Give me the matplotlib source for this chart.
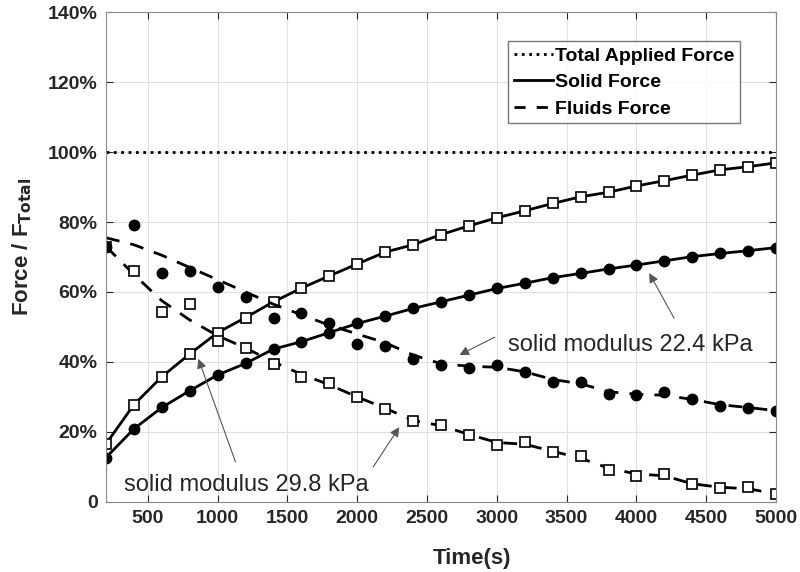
import numpy as np
import matplotlib.pyplot as plt
from matplotlib.ticker import FuncFormatter

plt.rcParams['font.family'] = ['Liberation Sans', 'DejaVu Sans']

# time grid (s)
time_s = [200, 400, 600, 800, 1000, 1200, 1400, 1600, 1800, 2000, 2200, 2400, 2600,
          2800, 3000, 3200, 3400, 3600, 3800, 4000, 4200, 4400, 4600, 4800, 5000]

# solid force, % of total
solid_stiff = [16.6, 27.8, 35.8, 42.3, 48.4, 52.7, 57.2, 61.1, 64.6, 68.0, 71.4, 73.5, 76.4,
               78.9, 81.2, 83.2, 85.3, 87.2, 88.5, 90.3, 91.8, 93.4, 94.9, 95.8, 96.9]
solid_soft = [12.7, 20.9, 27.0, 31.8, 36.3, 39.6, 43.7, 45.8, 48.4, 51.0, 53.1, 55.3, 57.2,
              59.1, 61.0, 62.5, 64.1, 65.3, 66.6, 67.7, 68.9, 70.1, 71.0, 71.8, 72.7]

# fluid force measurements, % of total
fluid_stiff_pts = [73.0, 66.0, 54.4, 56.6, 46.1, 43.9, 39.4, 35.8, 33.9, 30.1, 26.6, 23.0, 22.0,
                   19.1, 16.3, 17.0, 14.4, 13.1, 9.1, 7.5, 7.9, 5.0, 3.9, 4.4, 2.3]
fluid_soft_pts = [73.0, 79.1, 65.3, 66.0, 61.5, 58.7, 52.5, 53.9, 51.0, 45.1, 44.6, 40.8, 39.1,
                  38.4, 39.1, 37.2, 34.4, 34.4, 30.9, 30.6, 31.5, 29.3, 27.4, 26.8, 26.1]

# fluid force smoothed curves
fluid_stiff_fit = [73.0, 65.0, 57.5, 52.0, 47.5, 44.0, 40.0, 36.5, 33.5, 30.0, 26.8, 23.3, 21.8,
                   19.3, 17.0, 16.5, 14.5, 12.5, 9.7, 8.0, 7.5, 5.2, 4.2, 3.8, 2.3]
fluid_soft_fit = [75.5, 73.5, 70.5, 67.0, 63.5, 60.0, 56.5, 53.5, 50.5, 48.0, 45.5, 42.0, 39.5,
                  38.8, 38.5, 37.2, 35.0, 33.8, 31.5, 30.8, 30.5, 29.3, 27.8, 27.0, 26.1]

total_force = 100

fig = plt.figure(figsize=(8, 5.72), dpi=100)
ax = fig.add_axes([0.1325, 0.1224, 0.8375, 0.8566])

ax.axhline(total_force, color='k', ls=':', lw=2, label='Total Applied Force')

sq = dict(marker='s', ms=6.5, mfc='white', mec='k', mew=1.2)
ci = dict(marker='o', ms=7.5, mfc='k', mec='k')

ax.plot(time_s, solid_stiff, color='k', lw=2, **sq)
ax.plot(time_s, solid_soft, color='k', lw=2, **ci)

ax.plot(time_s, fluid_stiff_fit, color='k', lw=2, ls=(0, (5, 4)))
ax.plot(time_s, fluid_soft_fit, color='k', lw=2, ls=(0, (5, 4)))
ax.plot(time_s, fluid_stiff_pts, ls='none', **sq)
ax.plot(time_s, fluid_soft_pts, ls='none', **ci)

# legend proxies
ax.plot([], [], color='k', lw=2, label='Solid Force')
ax.plot([], [], color='k', lw=2, ls=(0, (4, 4)), label='Fluids Force')

ax.set_xlim(200, 5000)
ax.set_ylim(0, 140)
ax.set_xticks(np.arange(500, 5001, 500))
ax.set_yticks(np.arange(0, 141, 20))
ax.yaxis.set_major_formatter(FuncFormatter(lambda v, p: '0' if v == 0 else '%d%%' % v))
ax.tick_params(direction='in', top=True, right=True, labelsize=14, colors='#262626',
               length=5, width=0.8, pad=6)
for lab in ax.get_xticklabels() + ax.get_yticklabels():
    lab.set_fontweight('bold')
ax.grid(True, color='#e0e0e0', lw=0.8)
for s in ax.spines.values():
    s.set_color('#8a8a8a')

ax.set_xlabel('Time(s)', fontsize=16, fontweight='bold', color='#262626')
ax.xaxis.set_label_coords(0.546, -0.094)
ax.set_ylabel(r'Force / F$_{\mathbf{Total}}$', fontsize=16, fontweight='bold', color='#262626')
ax.yaxis.set_label_coords(-0.108, 0.52)

leg = ax.legend(loc='upper right', bbox_to_anchor=(0.9465, 0.94), fancybox=False,
                edgecolor='#555555', fontsize=14, handlelength=2.0, handletextpad=0.1,
                borderpad=0.3, borderaxespad=0.0, labelspacing=0.45)
for t in leg.get_texts():
    t.set_fontweight('bold')

arrow = dict(arrowstyle='-|>', color='#555555', lw=0.8, mutation_scale=14,
             shrinkA=0, shrinkB=0)
ax.text(3080, 44.9, 'solid modulus 22.4 kPa', fontsize=17, color='#262626',
        va='center', ha='left')
ax.annotate('', xy=(2732, 42), xytext=(2985, 47.1), arrowprops=arrow)
ax.annotate('', xy=(4092, 65.4), xytext=(4270, 52.5), arrowprops=arrow)
ax.text(330, 4.8, 'solid modulus 29.8 kPa', fontsize=17, color='#262626',
        va='center', ha='left')
ax.annotate('', xy=(862, 40.9), xytext=(1128, 11.4), arrowprops=arrow)
ax.annotate('', xy=(2301, 21.4), xytext=(2114, 10.0), arrowprops=arrow)

fig.savefig('out.png', dpi=100)
